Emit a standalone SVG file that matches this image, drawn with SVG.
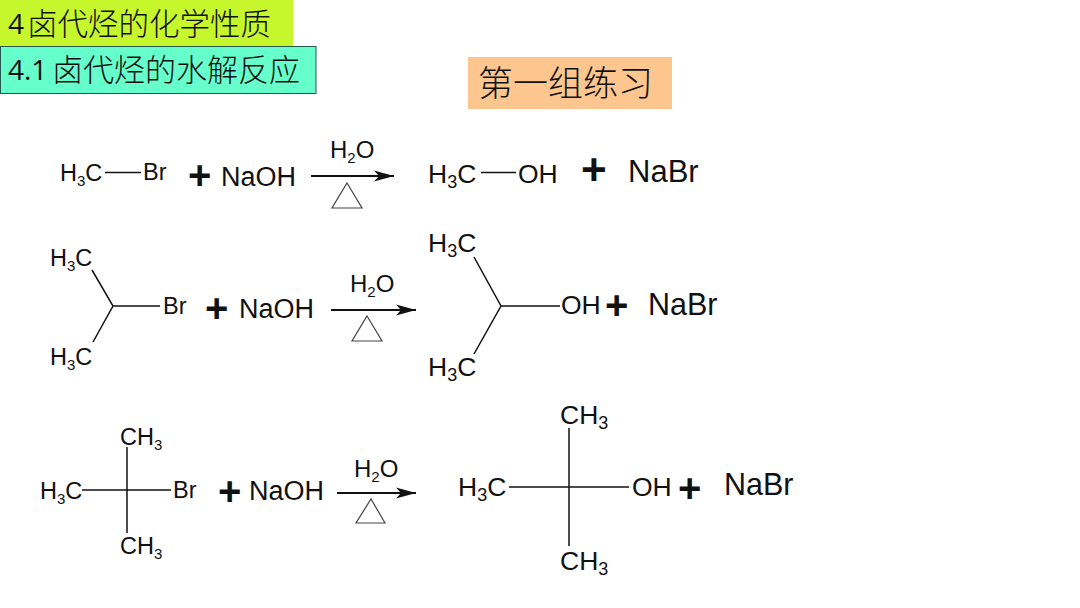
<svg xmlns="http://www.w3.org/2000/svg" width="1080" height="608" viewBox="0 0 1080 608">
<style>
text{font-family:"Liberation Sans",Arial,sans-serif;fill:#111}
.cjk{font-family:"Noto Sans CJK SC",sans-serif;fill:#111;font-weight:300}
.lat{font-family:"Open Sans","Noto Sans",sans-serif;font-weight:500}
.a{font-size:23.500px}.b{font-size:27px}.c{font-size:24px}.d{font-size:26.500px}.n{font-size:30.500px}
.s{font-size:15px}.t{font-size:18px}
.p{font-size:40px;font-weight:bold}
.q{font-size:44px;font-weight:bold}
.bond{stroke:#111;stroke-width:1.500;fill:none}
.tri{fill:#fff;stroke:#444;stroke-width:1.200}
.arr{stroke:#111;stroke-width:2;fill:none;marker-end:url(#ah)}
</style>
<defs><marker id="ah" markerUnits="userSpaceOnUse" markerWidth="22" markerHeight="13" refX="20" refY="6" orient="auto"><path d="M0 0.500L20 6L0 11.500L5 6Z" fill="#111"/></marker></defs>
<rect width="1080" height="608" fill="#fff"/>
<g id="title1"><rect x="0" y="0" width="293" height="46" fill="#c6f62c"/><text class="lat" x="8" y="34" font-size="28">4</text><text class="cjk" x="27" y="35" font-size="30.500">卤代烃的化学性质</text></g>
<g id="title2"><rect x="0.500" y="46.500" width="315.500" height="47" fill="#66ffcc" stroke="#22594c"/><text class="lat" x="8" y="80" font-size="28">4.1</text><text class="cjk" x="52" y="81" font-size="31">卤代烃的水解反应</text></g>
<g id="title3"><rect x="468" y="57" width="204" height="52" fill="#fdc68f"/><text class="cjk" x="478" y="96" font-size="35">第一组练习</text></g>
<g id="connectors">
<path class="bond" d="M105 172.500H141M481 172.500H516M92 270L113 306L93 342M113 306H160M474 257L501 306L474 354M501 306H560M127 447V533M82 490H171M569 428V546M509 487H629"/>
<path class="arr" d="M311 176H394"/><path class="arr" d="M331 310H416"/><path class="arr" d="M337 493H416"/>
<path class="tri" d="M347 183L362 208H332ZM367 316L382 341H352ZM371 499L385 523H356Z"/>
</g>
<g id="row1-reactant"><text class="a" x="60" y="181">H<tspan class="s" dy="5">3</tspan><tspan dy="-5">C</tspan></text><text class="a" x="143" y="180">Br</text></g>
<g id="row1-plus"><text class="p" x="188" y="189">+</text></g>
<g id="row1-naoh"><text class="b" x="221" y="186">NaOH</text></g>
<g id="row1-cond"><text class="c" x="330" y="158">H<tspan class="s" dy="5">2</tspan><tspan dy="-5">O</tspan></text></g>
<g id="row1-product"><text class="d" x="428" y="183">H<tspan class="t" dy="5">3</tspan><tspan dy="-5">C</tspan></text><text class="d" x="518" y="183">OH</text></g>
<g id="row1-plus2"><text class="q" x="581" y="185">+</text></g>
<g id="row1-nabr"><text x="628" y="182" font-size="31" style="font-size:31px">NaBr</text></g>
<g id="row2-reactant"><text class="a" x="50" y="266">H<tspan class="s" dy="5">3</tspan><tspan dy="-5">C</tspan></text><text class="a" x="50" y="365">H<tspan class="s" dy="5">3</tspan><tspan dy="-5">C</tspan></text><text class="a" x="163" y="314">Br</text></g>
<g id="row2-plus"><text class="p" x="205" y="322">+</text></g>
<g id="row2-naoh"><text class="b" x="239" y="318">NaOH</text></g>
<g id="row2-cond"><text class="c" x="350" y="292">H<tspan class="s" dy="5">2</tspan><tspan dy="-5">O</tspan></text></g>
<g id="row2-product"><text class="d" x="428" y="252">H<tspan class="t" dy="5">3</tspan><tspan dy="-5">C</tspan></text><text class="d" x="428" y="376">H<tspan class="t" dy="5">3</tspan><tspan dy="-5">C</tspan></text><text class="d" x="561" y="314">OH</text></g>
<g id="row2-plus2"><text class="p" x="605" y="319">+</text></g>
<g id="row2-nabr"><text class="n" x="648" y="315">NaBr</text></g>
<g id="row3-reactant"><text class="a" x="120" y="445">CH<tspan class="s" dy="5">3</tspan></text><text class="a" x="120" y="554">CH<tspan class="s" dy="5">3</tspan></text><text class="a" x="40" y="499">H<tspan class="s" dy="5">3</tspan><tspan dy="-5">C</tspan></text><text class="a" x="173" y="498">Br</text></g>
<g id="row3-plus"><text class="p" x="218" y="505">+</text></g>
<g id="row3-naoh"><text class="b" x="249" y="500">NaOH</text></g>
<g id="row3-cond"><text class="c" x="354" y="477">H<tspan class="s" dy="5">2</tspan><tspan dy="-5">O</tspan></text></g>
<g id="row3-product"><text class="d" x="560" y="424">CH<tspan class="t" dy="5">3</tspan></text><text class="d" x="560" y="570">CH<tspan class="t" dy="5">3</tspan></text><text class="d" x="458" y="496">H<tspan class="t" dy="5">3</tspan><tspan dy="-5">C</tspan></text><text class="d" x="632" y="496">OH</text></g>
<g id="row3-plus2"><text class="p" x="678" y="502">+</text></g>
<g id="row3-nabr"><text class="n" x="724" y="495">NaBr</text></g>
</svg>
